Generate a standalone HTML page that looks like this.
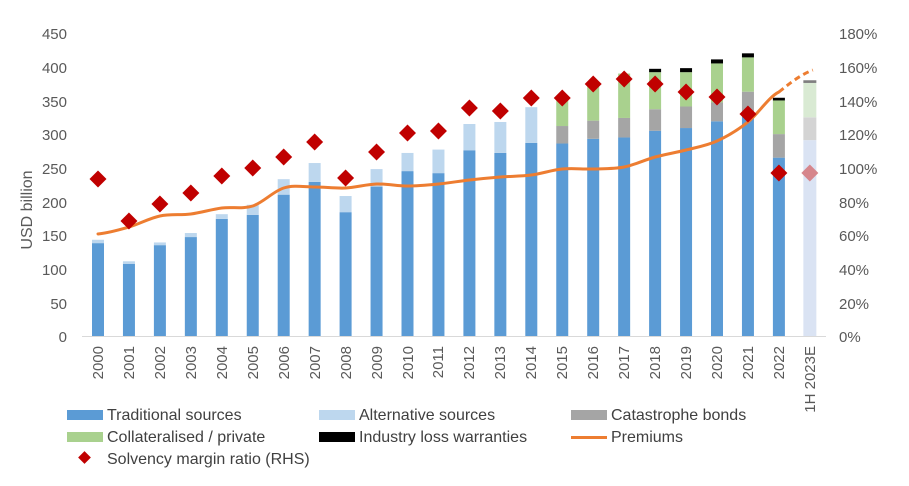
<!DOCTYPE html>
<html><head><meta charset="utf-8"><style>
html,body{margin:0;padding:0;background:#fff;}
svg{display:block;font-family:"Liberation Sans",sans-serif;}
</style></head><body>
<svg id="s" width="909" height="486" viewBox="0 0 909 486" xmlns="http://www.w3.org/2000/svg">
<g fill="#595959" font-size="15" text-anchor="end">
<text x="67" y="39">450</text><text x="67" y="73">400</text><text x="67" y="107">350</text>
<text x="67" y="140">300</text><text x="67" y="174">250</text><text x="67" y="208">200</text>
<text x="67" y="241">150</text><text x="67" y="275">100</text><text x="67" y="309">50</text>
<text x="67" y="342">0</text>
</g>
<g fill="#595959" font-size="15" text-anchor="start">
<text x="839" y="39">180%</text><text x="839" y="73">160%</text><text x="839" y="107">140%</text>
<text x="839" y="140">120%</text><text x="839" y="174">100%</text><text x="839" y="208">80%</text>
<text x="839" y="241">60%</text><text x="839" y="275">40%</text><text x="839" y="309">20%</text>
<text x="839" y="342">0%</text>
</g>
<text transform="translate(32,210) rotate(-90)" fill="#595959" font-size="16" text-anchor="middle">USD billion</text>
<line x1="82" y1="336.5" x2="826" y2="336.5" stroke="#d9d9d9" stroke-width="1"/>
<g id="bars"></g>
<g id="xl" fill="#595959" font-size="15" text-anchor="end">
<text transform="translate(103,346) rotate(-90)">2000</text>
<text transform="translate(134,346) rotate(-90)">2001</text>
<text transform="translate(165,346) rotate(-90)">2002</text>
<text transform="translate(196,346) rotate(-90)">2003</text>
<text transform="translate(227,346) rotate(-90)">2004</text>
<text transform="translate(258,346) rotate(-90)">2005</text>
<text transform="translate(289,346) rotate(-90)">2006</text>
<text transform="translate(320,346) rotate(-90)">2007</text>
<text transform="translate(351,346) rotate(-90)">2008</text>
<text transform="translate(382,346) rotate(-90)">2009</text>
<text transform="translate(413,346) rotate(-90)">2010</text>
<text transform="translate(443,346) rotate(-90)">2011</text>
<text transform="translate(474,346) rotate(-90)">2012</text>
<text transform="translate(505,346) rotate(-90)">2013</text>
<text transform="translate(536,346) rotate(-90)">2014</text>
<text transform="translate(567,346) rotate(-90)">2015</text>
<text transform="translate(598,346) rotate(-90)">2016</text>
<text transform="translate(629,346) rotate(-90)">2017</text>
<text transform="translate(660,346) rotate(-90)">2018</text>
<text transform="translate(691,346) rotate(-90)">2019</text>
<text transform="translate(722,346) rotate(-90)">2020</text>
<text transform="translate(753,346) rotate(-90)">2021</text>
<text transform="translate(784,346) rotate(-90)">2022</text>
<text transform="translate(815,346) rotate(-90)">1H 2023E</text>
</g>
<g font-size="16" fill="#404040">
<rect x="67" y="410" width="36" height="10" fill="#5b9bd5"/><text x="107" y="420">Traditional sources</text>
<rect x="319" y="410" width="36" height="10" fill="#bdd7ee"/><text x="359" y="420">Alternative sources</text>
<rect x="571" y="410" width="36" height="10" fill="#a5a5a5"/><text x="611" y="420">Catastrophe bonds</text>
<rect x="67" y="432" width="36" height="10" fill="#a9d18e"/><text x="107" y="442">Collateralised / private</text>
<rect x="319" y="432" width="36" height="10" fill="#000"/><text x="359" y="442">Industry loss warranties</text>
<rect x="571" y="436" width="36" height="3" fill="#ed7d31"/><text x="611" y="442">Premiums</text>
<rect x="80" y="453" width="9" height="9" fill="#c00000" transform="rotate(45 84.5 457.5)"/><text x="107" y="464">Solvency margin ratio (RHS)</text>
</g>
</svg>
<script>
var NS="http://www.w3.org/2000/svg",g=document.getElementById('bars');
function el(t,a){var e=document.createElementNS(NS,t);for(var k in a)e.setAttribute(k,a[k]);g.appendChild(e);return e;}
function y(v){return 336-0.673*v;}
function cx(i){return 98+30.95*i;}
var D=[[138,143],[107,111],[135,139],[147,153],[174,181],[180,195],[210,233],[229,257],[184,208],[222,248],[245,272],[242,277],[276,315],[272,318],[287,340],
[286,286,312,355],[293,293,320,373],[295,295,324,390],[305,305,337,392,397],[309,309,341,392,398],[319,319,347,405,411],[326,326,363,414,420],[265,265,300,350,354]];
var C=['#5b9bd5','#bdd7ee','#a5a5a5','#a9d18e','#000'];
D.forEach(function(d,i){var prev=0;for(var j=0;j<d.length;j++){if(d[j]>prev){el('rect',{x:cx(i)-6,y:y(d[j]),width:12,height:y(prev)-y(d[j]),fill:C[j]});}prev=Math.max(prev,d[j]);}});
var i=23;[[291,'#dae3f3'],[325,'#d4d4d4'],[376,'#d9ead3'],[380,'#7f7f7f']].reduce(function(p,s){el('rect',{x:cx(i)-6.5,y:y(s[0]),width:13,height:y(p)-y(s[0]),fill:s[1]});return s[0];},0);
var P=[234,227,216,214,208,206,188,187,188,184,186,184,180,177,175,169,169,167,157,150,141,122,92];
var d='M'+cx(0)+','+P[0];
for(var k=1;k<P.length;k++){var x0=cx(k-1),x1=cx(k),y0=P[k-1],y1=P[k];var yp=P[k-2]!==undefined?P[k-2]:y0,yn=P[k+1]!==undefined?P[k+1]:y1;
d+=' C'+(x0+10.3)+','+(y0+(y1-yp)/6)+' '+(x1-10.3)+','+(y1-(yn-y0)/6)+' '+x1+','+y1;}
el('path',{d:d,fill:'none',stroke:'#ed7d31','stroke-width':3,'stroke-linecap':'round'});
el('path',{d:'M'+cx(22)+',92 C'+(cx(22)+10)+',84 '+(cx(23)-10)+',75 '+(cx(23)+3)+',70',fill:'none',stroke:'#ed7d31','stroke-width':3,'stroke-dasharray':'6,4'});
var S=[179,221,204,193,176,168,157,142,178,152,133,131,108,111,98,98,84,79,84,92,97,114,173,173];
S.forEach(function(v,k){el('rect',{x:cx(k)-6,y:v-6,width:12,height:12,fill:k==23?'#d6868c':'#c00000',transform:'rotate(45 '+cx(k)+' '+v+')'});});
</script>
</body></html>
